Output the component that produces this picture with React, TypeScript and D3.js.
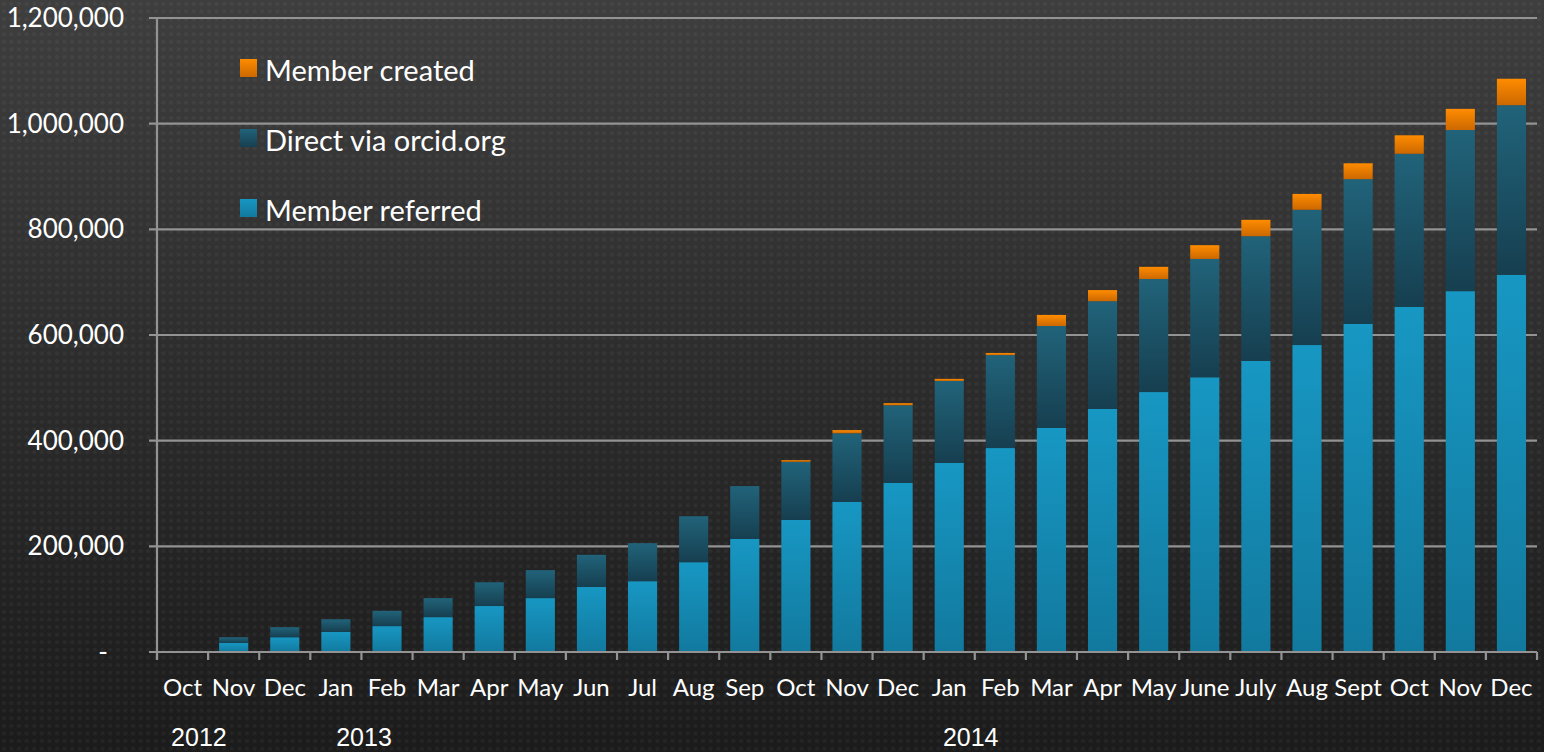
import React, { useEffect, useRef } from "react";
import * as d3 from "d3";

// months Oct 2012 .. Dec 2014
const months = [
  "Oct", "Nov", "Dec", "Jan", "Feb", "Mar", "Apr", "May", "Jun", "Jul", "Aug", "Sep",
  "Oct", "Nov", "Dec", "Jan", "Feb", "Mar", "Apr", "May", "June", "July", "Aug", "Sept",
  "Oct", "Nov", "Dec",
];

// values in thousands
const memberReferred = [
  0, 17, 28, 38, 49, 66, 87, 102, 123, 134, 170, 214,
  250, 284, 320, 358, 386, 424, 460, 492, 520, 551, 581, 621,
  653, 683, 714,
];
const directOrcid = [
  0, 11, 19, 24, 29, 36, 45, 53, 61, 72, 87, 100,
  110, 130, 147, 155, 176, 193, 204, 214, 224, 236, 256, 274,
  290, 305, 321,
];
const memberCreated = [
  0, 0, 0, 0, 0, 0, 0, 0, 0, 0, 0, 0,
  3, 6, 4, 4, 4, 21, 21, 23, 26, 31, 30, 30,
  35, 40, 50,
];

const seriesNames = ["Member referred", "Direct via orcid.org", "Member created"];
const yTicks = [0, 200000, 400000, 600000, 800000, 1000000, 1200000];
// year labels, placed at a position counted in months from the axis start
const years = [
  { label: "2012", at: 0.82 },
  { label: "2013", at: 4.05 },
  { label: "2014", at: 15.92 },
];

const App = () => {
  const svgRef = useRef<SVGSVGElement>(null);

  useEffect(() => {
    const width = 1544;
    const height = 752;
    const margin = { top: 18, right: 7, bottom: 100, left: 157 };

    const svg = d3.select(svgRef.current)
      .attr("width", width)
      .attr("height", height);
    svg.selectAll("*").remove();

    const defs = svg.append("defs");

    const bg = defs.append("linearGradient").attr("id", "bg")
      .attr("x1", 0).attr("y1", 0).attr("x2", 0).attr("y2", 1);
    bg.append("stop").attr("offset", "0%").attr("stop-color", "#3e3e3e");
    bg.append("stop").attr("offset", "55%").attr("stop-color", "#2a2a2a");
    bg.append("stop").attr("offset", "100%").attr("stop-color", "#1b1b1b");

    const dots = defs.append("pattern").attr("id", "dots")
      .attr("patternUnits", "userSpaceOnUse")
      .attr("width", 7.6).attr("height", 7.6);
    dots.append("rect").attr("x", 1.8).attr("y", 1.8).attr("width", 4).attr("height", 4)
      .attr("rx", 1.5).attr("fill", "#ffffff").attr("opacity", 0.04);

    const grads = [
      { id: "gRef", top: "#1797c3", bottom: "#12799e" },
      { id: "gDir", top: "#21637a", bottom: "#163f50" },
      { id: "gCre", top: "#ff8c00", bottom: "#cc6800" },
    ];
    grads.forEach(g => {
      const lg = defs.append("linearGradient").attr("id", g.id)
        .attr("x1", 0).attr("y1", 0).attr("x2", 0).attr("y2", 1);
      lg.append("stop").attr("offset", "0%").attr("stop-color", g.top);
      lg.append("stop").attr("offset", "100%").attr("stop-color", g.bottom);
    });

    svg.append("rect").attr("width", width).attr("height", height).attr("fill", "url(#bg)");
    svg.append("rect").attr("width", width).attr("height", height).attr("fill", "url(#dots)");

    const idx = months.map((_, i) => i);
    const x = d3.scaleBand<number>()
      .domain(idx)
      .range([margin.left, width - margin.right])
      .paddingInner(0.43)
      .paddingOuter(0.215);

    const y = d3.scaleLinear()
      .domain([0, 1200000])
      .range([height - margin.bottom, margin.top]);

    const step = x.step();
    const x0 = margin.left;
    const x1 = width - margin.right;

    // gridlines
    svg.append("g")
      .selectAll("line")
      .data(yTicks.filter(d => d > 0))
      .join("line")
      .attr("x1", x0 - 8).attr("x2", x1)
      .attr("y1", d => y(d)).attr("y2", d => y(d))
      .attr("stroke", "#939393").attr("stroke-width", 2.2);

    // stacked bars
    const rows = idx.map(i => ({
      i,
      ref: memberReferred[i] * 1000,
      dir: directOrcid[i] * 1000,
      cre: memberCreated[i] * 1000,
    }));
    const stack = d3.stack<any>().keys(["ref", "dir", "cre"]);
    const layers = stack(rows);
    const fills = ["url(#gRef)", "url(#gDir)", "url(#gCre)"];

    svg.append("g")
      .selectAll("g")
      .data(layers)
      .join("g")
      .attr("fill", (_, k) => fills[k])
      .selectAll("rect")
      .data(d => d.filter(s => s[1] - s[0] > 0))
      .join("rect")
      .attr("x", d => x(d.data.i) as number)
      .attr("width", x.bandwidth())
      .attr("y", d => y(d[1]))
      .attr("height", d => y(d[0]) - y(d[1]));

    // axes
    const axisColor = "#939393";
    svg.append("line")
      .attr("x1", x0).attr("x2", x0)
      .attr("y1", y(1200000)).attr("y2", y(0) + 8)
      .attr("stroke", axisColor).attr("stroke-width", 2.2);
    svg.append("line")
      .attr("x1", x0 - 8).attr("x2", x1)
      .attr("y1", y(0)).attr("y2", y(0))
      .attr("stroke", axisColor).attr("stroke-width", 2.2);
    svg.append("g")
      .selectAll("line")
      .data(d3.range(months.length + 1))
      .join("line")
      .attr("x1", i => x0 + i * step).attr("x2", i => x0 + i * step)
      .attr("y1", y(0)).attr("y2", y(0) + 8)
      .attr("stroke", axisColor).attr("stroke-width", 2.2);

    const labelFont = "Lato, 'Open Sans', sans-serif";

    // y tick labels
    svg.append("g")
      .selectAll("text")
      .data(yTicks)
      .join("text")
      .attr("x", d => (d === 0 ? 108 : 124))
      .attr("y", d => y(d) + 9)
      .attr("text-anchor", "end")
      .attr("fill", "#ffffff")
      .style("font-family", labelFont)
      .style("font-size", "26px")
      .text(d => (d === 0 ? "-" : d3.format(",")(d)));

    // month labels
    svg.append("g")
      .selectAll("text")
      .data(idx)
      .join("text")
      .attr("x", i => (x(i) as number) + x.bandwidth() / 2)
      .attr("y", y(0) + 44)
      .attr("text-anchor", "middle")
      .attr("fill", "#ffffff")
      .style("font-family", labelFont)
      .style("font-size", "24px")
      .text(i => months[i]);

    // year labels
    svg.append("g")
      .selectAll("text")
      .data(years)
      .join("text")
      .attr("x", d => x0 + d.at * step)
      .attr("y", height - 6)
      .attr("text-anchor", "middle")
      .attr("fill", "#ffffff")
      .style("font-family", "'Liberation Sans', Arial, sans-serif")
      .style("font-size", "25px")
      .text(d => d.label);

    // legend (top to bottom: created, direct, referred)
    const legend = svg.append("g").attr("transform", "translate(240,59)");
    const legendItems = [2, 1, 0];
    legendItems.forEach((k, r) => {
      const g = legend.append("g").attr("transform", `translate(0,${r * 70})`);
      g.append("rect").attr("width", 17).attr("height", 18).attr("fill", fills[k]);
      g.append("text")
        .attr("x", 25).attr("y", 22)
        .attr("fill", "#ffffff")
        .style("font-family", labelFont)
        .style("font-size", "29px")
        .text(seriesNames[k]);
    });
  }, []);

  return (
    <svg
      ref={svgRef}
      style={{ position: "absolute", left: 0, top: 0, display: "block" }}
    ></svg>
  );
};

export default App;
